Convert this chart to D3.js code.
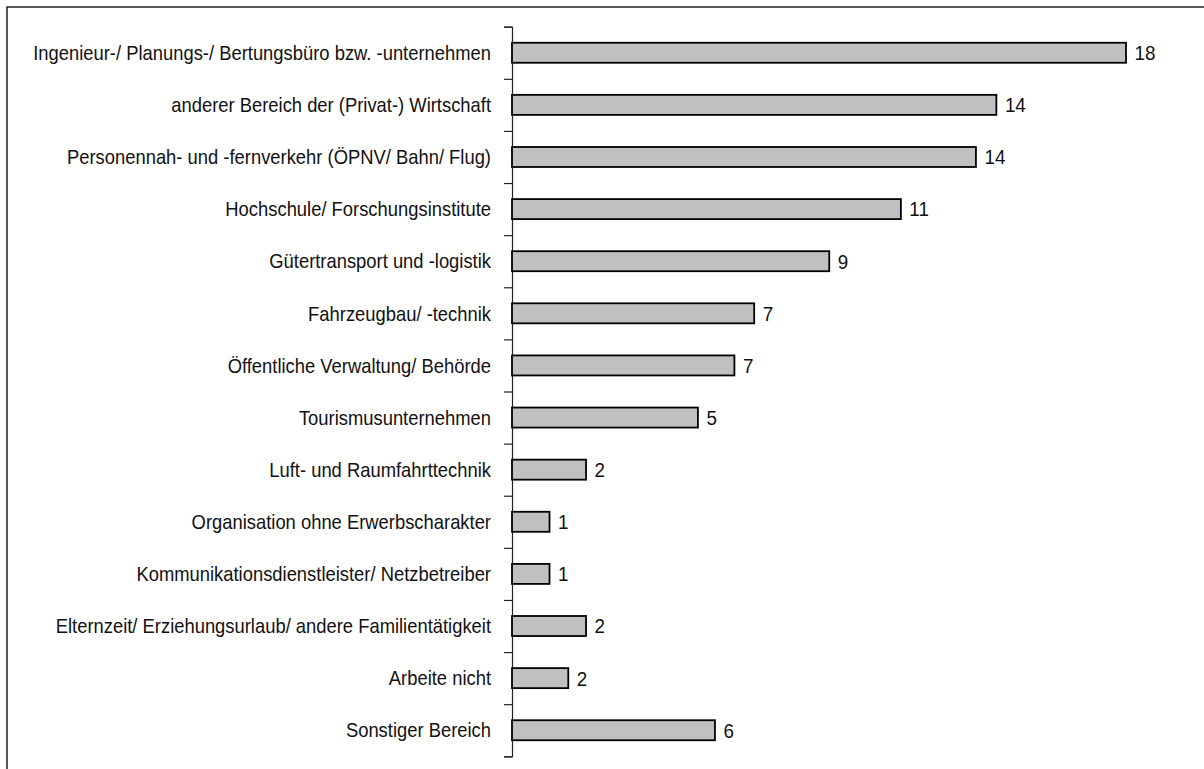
<!DOCTYPE html>
<html>
<head>
<meta charset="utf-8">
<script src="https://cdn.jsdelivr.net/npm/d3@7"></script>
<style>
  html, body { margin: 0; padding: 0; background: #fff; }
  svg { display: block; }
  text { font-family: "Liberation Sans", Arial, sans-serif; fill: #111; }
</style>
</head>
<body>
<svg id="chart" width="1204" height="769"></svg>
<script>
const categories = [
  "Ingenieur-/ Planungs-/ Bertungsbüro bzw. -unternehmen",
  "anderer Bereich der (Privat-) Wirtschaft",
  "Personennah- und -fernverkehr (ÖPNV/ Bahn/ Flug)",
  "Hochschule/ Forschungsinstitute",
  "Gütertransport und -logistik",
  "Fahrzeugbau/ -technik",
  "Öffentliche Verwaltung/ Behörde",
  "Tourismusunternehmen",
  "Luft- und Raumfahrttechnik",
  "Organisation ohne Erwerbscharakter",
  "Kommunikationsdienstleister/ Netzbetreiber",
  "Elternzeit/ Erziehungsurlaub/ andere Familientätigkeit",
  "Arbeite nicht",
  "Sonstiger Bereich"
];
// bar lengths (unrounded)
const values = [18.0, 14.2, 13.6, 11.4, 9.3, 7.1, 6.52, 5.45, 2.17, 1.1, 1.1, 2.17, 1.65, 5.95];
// value labels as printed
const valueLabels = ["18", "14", "14", "11", "9", "7", "7", "5", "2", "1", "1", "2", "2", "6"];

const svg = d3.select("#chart");

// frame (partially visible box)
svg.append("path")
  .attr("d", "M7,769 L7,7 L1204,7")
  .attr("fill", "none")
  .attr("stroke", "#222")
  .attr("stroke-width", 1.5);

const axisX = 512;
const x = d3.scaleLinear().domain([0, 18]).range([axisX, 1126]);
const y = d3.scaleBand().domain(categories).range([26.7, 756.3])
  .paddingInner(0.616).paddingOuter(0.308);

// category axis with tick marks at category boundaries
const yTicks = d3.scaleLinear().domain([0, categories.length]).range([26.7, 756.3]);
const axisG = svg.append("g")
  .attr("transform", `translate(${axisX},0)`)
  .call(d3.axisLeft(yTicks).ticks(categories.length).tickFormat("").tickSize(8).tickSizeOuter(8));
axisG.selectAll("path, line").attr("stroke", "#222").attr("stroke-width", 1.2);

// bars
svg.append("g").selectAll("rect")
  .data(categories)
  .join("rect")
  .attr("x", x(0))
  .attr("y", d => y(d))
  .attr("width", (d, i) => x(values[i]) - x(0))
  .attr("height", y.bandwidth())
  .attr("fill", "#c0c0c0")
  .attr("stroke", "#000")
  .attr("stroke-width", 1.8);

// narrow-looking text: horizontally compressed Liberation Sans
const labelSize = 20;
const labelRight = 491;
const labelG = svg.append("g");
const labels = labelG.selectAll("text")
  .data(categories)
  .join("text")
  .attr("x", 0)
  .attr("y", 0)
  .attr("dy", "0.36em")
  .attr("text-anchor", "end")
  .attr("font-size", labelSize)
  .text(d => d);
// width of the longest label in the reference ~458px
const firstW = labels.node().getComputedTextLength();
const sx = Math.min(1, 458 / firstW);
labels.attr("transform", d => `translate(${labelRight},${y(d) + y.bandwidth() / 2}) scale(${sx},1)`);

// value labels
svg.append("g").selectAll("text")
  .data(categories)
  .join("text")
  .attr("x", 0)
  .attr("y", 0)
  .attr("dy", "0.36em")
  .attr("font-size", 20.5)
  .attr("transform", (d, i) => `translate(${x(values[i]) + 8.5},${y(d) + y.bandwidth() / 2}) scale(${sx},1)`)
  .text((d, i) => valueLabels[i]);
</script>
</body>
</html>
